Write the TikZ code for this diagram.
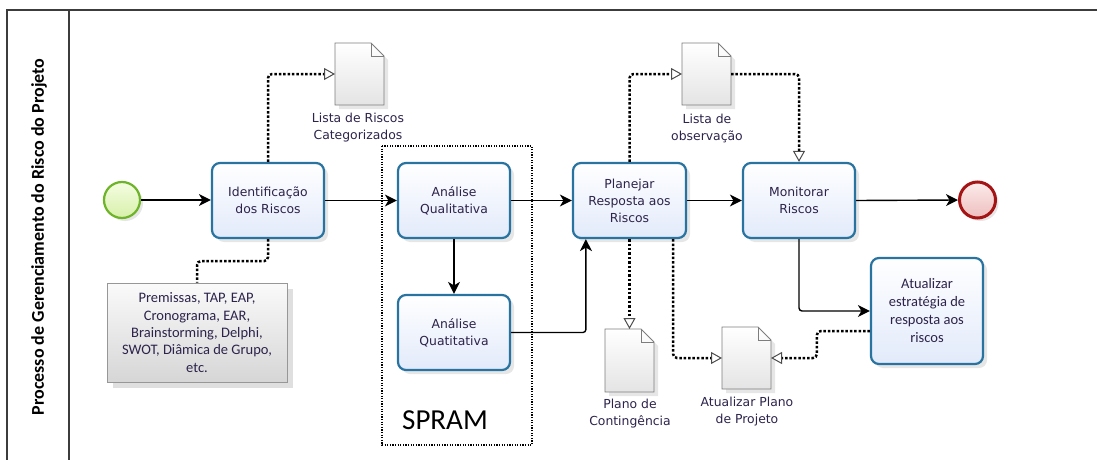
\documentclass[tikz,border=0pt]{standalone}
\usepackage{fontspec}
\setmainfont{DejaVu Sans}
\newfontfamily\calfont{Carlito}
\usetikzlibrary{arrows.meta,shadows,calc}
\definecolor{boxborder}{RGB}{40,115,160}
\definecolor{boxfill}{RGB}{226,234,250}
\definecolor{txt}{RGB}{45,35,75}
\definecolor{startborder}{RGB}{110,180,40}
\definecolor{startfillA}{RGB}{245,253,225}
\definecolor{startfillB}{RGB}{215,240,170}
\definecolor{endborder}{RGB}{165,20,20}
\definecolor{endfillA}{RGB}{252,235,235}
\definecolor{endfillB}{RGB}{238,190,190}
\definecolor{docfill}{RGB}{228,228,228}
\definecolor{docborder}{RGB}{125,125,125}
\definecolor{annA}{RGB}{250,250,250}
\definecolor{annB}{RGB}{214,214,214}
\definecolor{frame}{RGB}{60,60,60}
\newcommand\drawdoc[1]{%
  \draw[docline, top color=white, bottom color=docfill, drop shadow={opacity=0.2, shadow xshift=4pt, shadow yshift=-4pt}]
    (#1.south west) -- (#1.north west) -- ($(#1.north east)+(-13,0)$) -- ($(#1.north east)+(0,13)$) -- (#1.south east) -- cycle;
  \draw[docline] ($(#1.north east)+(-13,0)$) -- ($(#1.north east)+(-13,13)$) -- ($(#1.north east)+(0,13)$);
}
\begin{document}
\begin{tikzpicture}[x=1pt,y=-1pt,
  task/.style={draw=boxborder, line width=2.2pt, rounded corners=8pt, top color=white, bottom color=boxfill,
    minimum width=112pt, minimum height=75pt, inner sep=0pt, align=center, text=txt,
    font=\fontsize{12.4}{17}\selectfont, drop shadow={opacity=0.2, shadow xshift=4pt, shadow yshift=-4pt}},
  startev/.style={circle, draw=startborder, line width=2.2pt, top color=startfillA, bottom color=startfillB,
    minimum size=36pt, inner sep=0pt, drop shadow={opacity=0.2, shadow xshift=3pt, shadow yshift=-3pt}},
  endev/.style={circle, draw=endborder, line width=3pt, top color=endfillA, bottom color=endfillB,
    minimum size=36pt, inner sep=0pt, drop shadow={opacity=0.2, shadow xshift=3pt, shadow yshift=-3pt}},
  docnode/.style={minimum width=49pt, minimum height=62pt, inner sep=0pt, outer sep=0pt},
  docline/.style={draw=docborder, line width=0.9pt},
  doclabel/.style={align=center, text=txt, font=\fontsize{12.4}{17}\selectfont, inner sep=0pt},
  annot/.style={draw=docborder!80, line width=0.8pt, top color=annA, bottom color=annB,
    minimum width=180pt, minimum height=99pt, inner sep=0pt, align=center, text=txt,
    font=\calfont\fontsize{14.5}{17.4}\selectfont, drop shadow={opacity=0.25, shadow xshift=6pt, shadow yshift=-6pt}},
  flow/.style={draw=black, line width=1.4pt, -{Stealth[length=12pt, width=12pt, inset=3.5pt]}},
  assoc/.style={draw=black, line width=2.5pt, dash pattern=on 2.5pt off 1.9pt, rounded corners=4pt},
  opentip/.style={-{Triangle[open, fill=white, length=11pt, width=12pt, line width=1pt, color=black!70]}}
]
\useasboundingbox (0,0) rectangle (1097,460);
% frame
\draw[frame, line width=1.4pt] (1097,10) -- (7,10) -- (7,460);
\draw[frame, line width=1.4pt] (69,10) -- (69,460);
\node[rotate=90, font=\calfont\bfseries\fontsize{18}{20}\selectfont, inner sep=0pt] (lane) at (39,237)
  {Processo de Gerenciamento do Risco do Projeto};
% SPRAM group
\draw[line width=1.2pt, dash pattern=on 1.2pt off 1.4pt] (382,146) rectangle (532,445);
\node[font=\calfont\fontsize{29}{32}\selectfont, inner sep=0pt] (spram) at (445,420) {SPRAM};
% events and tasks
\node[startev] (start) at (122,200) {};
\node[endev] (end) at (977.5,200) {};
\node[task] (idr) at (268,200.5) {Identificação\\dos Riscos};
\node[task] (aql) at (454,200.5) {Análise\\Qualitativa};
\node[task] (aqt) at (454,332.5) {Análise\\Quatitativa};
\node[task, minimum width=113pt] (plan) at (629.5,200.5) {Planejar\\Resposta aos\\Riscos};
\node[task] (mon) at (799,200.5) {Monitorar\\Riscos};
\node[task, minimum height=106pt, font=\calfont\fontsize{14.5}{18}\selectfont] (atu) at (927,311)
  {Atualizar\\estratégia de\\resposta aos\\riscos};
% annotation
\node[annot] (ann) at (197,332.5) {Premissas, TAP, EAP,\\Cronograma, EAR,\\Brainstorming, Delphi,\\SWOT, Diâmica de Grupo,\\etc.};
% documents
\node[docnode] (lrc) at (359.5,74) {};
\node[docnode] (lob) at (706.5,74) {};
\node[docnode, minimum height=63pt] (pco) at (629.5,360.5) {};
\node[docnode] (apl) at (746.5,358) {};
\drawdoc{lrc}
\drawdoc{lob}
\drawdoc{pco}
\drawdoc{apl}
\node[doclabel] (lrcl) at (358,128) {Lista de Riscos\\Categorizados};
\node[doclabel] (lobl) at (707,128) {Lista de\\observação};
\node[doclabel] (pcol) at (630,414) {Plano de\\Contingência};
\node[doclabel] (apll) at (747,412) {Atualizar Plano\\de Projeto};
% sequence flows
\draw[flow] (start.east) -- (start.east -| idr.west);
\draw[flow] (idr.east) -- (aql.west);
\draw[flow] (aql.east) -- (plan.west);
\draw[flow] (plan.east) -- (mon.west);
\draw[flow] (mon.east) -- (end.west);
\draw[flow] (aql.south) -- (aqt.north);
\draw[flow, rounded corners=3pt] (aqt.east) -| ($(plan.south west)+(14,0)$);
\draw[flow, rounded corners=3pt] (mon.south) |- (atu.west);
% associations
\draw[assoc, opentip] (idr.north) |- (lrc.west);
\draw[assoc] (idr.south) -- ++(0,22) -| (ann.north);
\draw[assoc, opentip] (plan.north) |- (lob.west);
\draw[assoc, opentip] (lob.east) -| (mon.north);
\draw[assoc, opentip] (plan.south) -- (pco.north);
\draw[assoc, opentip] ($(plan.south east)+(-14,0)$) |- (apl.west);
\draw[assoc, opentip] ($(atu.west)+(0,20)$) -- ++(-53,0) |- (apl.east);
\end{tikzpicture}
\end{document}
